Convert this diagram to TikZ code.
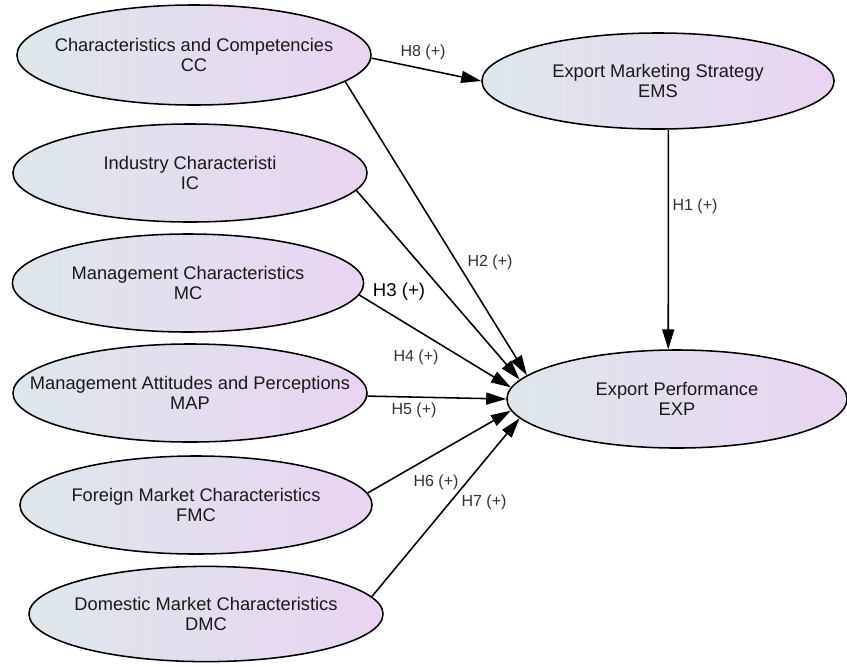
\documentclass[tikz,border=0pt]{standalone}
\usepackage{fontspec}
\setmainfont{Liberation Sans}
\usepackage{tikz}
\usetikzlibrary{arrows.meta,shapes,positioning}
\usepackage{xcolor}
\definecolor{pmblue}{RGB}{222,231,235}
\definecolor{pmpurple}{RGB}{233,212,242}
\definecolor{pmtext}{RGB}{25,25,25}
\definecolor{pmlabel}{RGB}{50,50,50}
\tikzstyle{arrow} = [line width=1.1pt,-{Triangle[length=5mm,width=3mm]},color=black]
\tikzstyle{construct} = [ellipse, minimum width=8.85cm, minimum height=2.45cm, inner xsep=-2cm, align=center, draw=black, line width=1.1pt, left color=pmblue, right color=pmpurple, text=pmtext, font=\fontsize{13}{14.5}\selectfont]
\tikzstyle{hyp} = [text=pmlabel, font=\fontsize{11.4}{13}\selectfont]

\begin{document}
\begin{tikzpicture}[x=0.025cm,y=-0.025cm]
\useasboundingbox (0,0) rectangle (847,666);
% Antecedents
\node (CC) [construct, minimum height=2.5cm] at (194,55) {Characteristics and Competencies\\CC};
\node (IC) [construct] at (190,173) {Industry Characteristi\\IC};
\node (MC) [construct, minimum width=8.78cm] at (188,283) {Management Characteristics\\MC};
\node (MAP) [construct] at (190,393) {Management Attitudes and Perceptions\\MAP};
\node (FMC) [construct, minimum width=8.8cm] at (196,505) {Foreign Market Characteristics\\FMC};
\node (DMC) [construct, minimum height=2.38cm] at (206,614) {Domestic Market Characteristics\\DMC};

% Outcomes
\node (EMS) [construct, minimum width=8.8cm, minimum height=2.4cm] at (658,81) {Export Marketing Strategy\\EMS};
\node (EXP) [construct, minimum width=8.5cm] at (677,399) {Export Performance\\EXP};

\draw[arrow] (CC.359) -- (EMS.west);
\draw[arrow] (EMS.282) -- (EXP.100);
\draw[arrow] (CC.350) -- (EXP.171);
\draw[arrow] (IC.354) -- (EXP.173);
\draw[arrow] (MC.356) -- (EXP.176);
\draw[arrow] (MAP.359) -- (EXP.180);
\draw[arrow] (FMC.4) -- (EXP.184);
\draw[arrow] (DMC.6) -- (EXP.187);

% Labels
\node (h8) [hyp] at (423,52) {H8 (+)};
\node (h1) [hyp] at (695,206) {H1 (+)};
\node (h2) [hyp] at (490,262) {H2 (+)};
\node (h3) [hyp, text=black, font=\fontsize{13.2}{15}\selectfont] at (399,292) {H3 (+)};
\node (h4) [hyp] at (416,357) {H4 (+)};
\node (h5) [hyp] at (414,410) {H5 (+)};
\node (h6) [hyp] at (436,482) {H6 (+)};
\node (h7) [hyp] at (484,502) {H7 (+)};
\end{tikzpicture}
\end{document}
